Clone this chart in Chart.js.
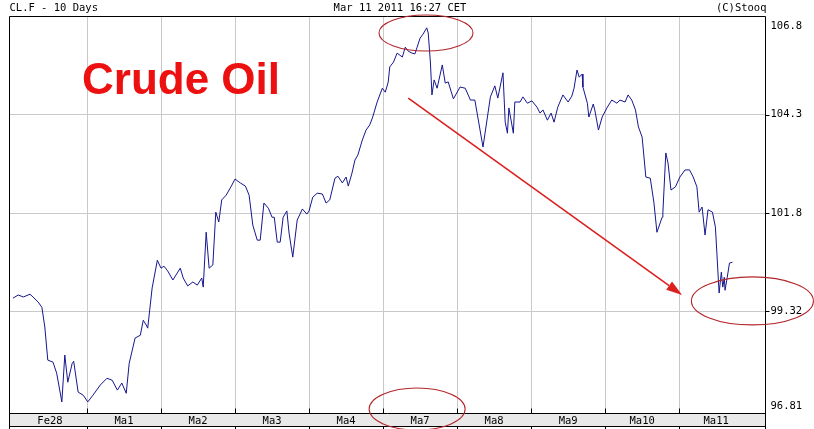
<!DOCTYPE html>
<html>
<head>
<meta charset="utf-8">
<script src="https://cdn.jsdelivr.net/npm/chart.js@4.4.1/dist/chart.umd.min.js"></script>
<style>
  html, body { margin: 0; padding: 0; background: #fff; }
  canvas { display: block; }
</style>
</head>
<body>
<canvas id="oilChart" width="814" height="429"></canvas>
<script>
// day slots along the bottom band
const dayLabels = ['Fe28', 'Ma1', 'Ma2', 'Ma3', 'Ma4', 'Ma7', 'Ma8', 'Ma9', 'Ma10', 'Ma11'];
const yTickValues = [106.8, 104.3, 101.8, 99.32, 96.81];
const yTickLabels = ['106.8', '104.3', '101.8', '99.32', '96.81'];

// time in trading days since the Fe28 open, price of CL.F
const times = [
  0.00, 0.07, 0.14, 0.23, 0.27, 0.34, 0.39, 0.43, 0.47, 0.54, 0.59, 0.66, 0.70, 0.74, 0.80, 0.82, 0.88, 0.95,
  1.01, 1.08, 1.18, 1.27, 1.34, 1.41, 1.47, 1.53, 1.57, 1.65, 1.72, 1.76, 1.80, 1.82, 1.88, 1.95,
  2.00, 2.04, 2.09, 2.16, 2.26, 2.30, 2.36, 2.43, 2.49, 2.55, 2.57, 2.61, 2.65, 2.70, 2.74, 2.78, 2.82, 2.88, 2.95,
  3.00, 3.07, 3.14, 3.19, 3.24, 3.30, 3.34, 3.39, 3.45, 3.50, 3.53, 3.57, 3.61, 3.65, 3.70, 3.73, 3.78, 3.84, 3.91, 3.97,
  4.00, 4.05, 4.11, 4.18, 4.23, 4.28, 4.35, 4.39, 4.45, 4.50, 4.53, 4.58, 4.62, 4.66, 4.72, 4.77, 4.82, 4.86, 4.92, 4.99,
  5.03, 5.07, 5.09, 5.14, 5.19, 5.26, 5.30, 5.34, 5.39, 5.43, 5.46, 5.50, 5.54, 5.59, 5.61, 5.64, 5.66, 5.69, 5.73, 5.80, 5.84, 5.88, 5.95,
  6.04, 6.11, 6.18, 6.24, 6.35, 6.45, 6.51, 6.55, 6.62, 6.65, 6.68, 6.70, 6.76, 6.78, 6.85, 6.89, 6.95,
  7.01, 7.08, 7.12, 7.16, 7.22, 7.27, 7.31, 7.36, 7.43, 7.50, 7.55, 7.58, 7.62, 7.65, 7.69, 7.70, 7.76, 7.78, 7.84, 7.86, 7.91, 7.96,
  8.03, 8.09, 8.16, 8.20, 8.27, 8.31, 8.36, 8.41, 8.45, 8.50, 8.55, 8.61, 8.66, 8.70, 8.77, 8.78, 8.82, 8.85, 8.89, 8.95,
  9.01, 9.08, 9.14, 9.19, 9.24, 9.27, 9.31, 9.35, 9.39, 9.45, 9.49, 9.51, 9.53, 9.54, 9.57, 9.59, 9.61, 9.62, 9.65, 9.68, 9.72
];
const prices = [
  99.65, 99.73, 99.68, 99.75, 99.68, 99.55, 99.42, 98.92, 98.08, 98.03, 97.75, 97.02, 98.21, 97.52, 98.00, 98.05, 97.27, 97.19,
  97.02, 97.19, 97.45, 97.62, 97.57, 97.32, 97.50, 97.24, 98.00, 98.64, 98.71, 99.09, 98.97, 98.89, 99.91, 100.61,
  100.41, 100.46, 100.34, 100.11, 100.41, 100.16, 99.96, 100.06, 99.98, 100.16, 99.93, 101.32, 100.41, 100.49, 101.83, 101.58, 102.14, 102.26, 102.49,
  102.67, 102.57, 102.49, 102.26, 101.50, 101.12, 101.12, 102.06, 101.93, 101.70, 101.70, 101.07, 101.07, 101.70, 101.86, 101.30, 100.69, 101.63, 101.91, 101.78,
  101.86, 102.21, 102.31, 102.29, 102.06, 102.14, 102.69, 102.74, 102.57, 102.72, 102.49, 102.82, 103.15, 103.28, 103.66, 103.91, 104.04, 104.24, 104.62, 104.97,
  104.87, 105.13, 105.51, 105.63, 105.86, 105.76, 106.01, 105.91, 105.86, 105.84, 106.01, 106.24, 106.34, 106.50, 106.37, 105.61, 104.80, 105.18, 104.97, 105.56, 105.10, 105.13, 104.70,
  105.00, 104.97, 104.67, 104.67, 103.48, 104.75, 105.03, 104.72, 105.36, 104.11, 103.83, 104.47, 103.83, 104.62, 104.62, 104.75, 104.59,
  104.65, 104.49, 104.34, 104.42, 104.16, 104.34, 104.11, 104.49, 104.80, 104.62, 104.77, 104.97, 105.43, 105.25, 105.33, 105.00, 104.59, 104.24, 104.57, 104.42, 103.91, 104.24,
  104.49, 104.67, 104.59, 104.67, 104.62, 104.80, 104.67, 104.42, 103.99, 103.73, 102.72, 102.69, 102.06, 101.32, 101.70, 101.81, 103.33, 103.07, 102.39, 102.47,
  102.72, 102.90, 102.90, 102.72, 102.47, 101.83, 101.96, 101.25, 101.89, 101.83, 101.45, 100.79, 100.11, 99.78, 100.31, 99.93, 100.18, 99.85, 100.18, 100.54, 100.56
];

const MONO = '"DejaVu Sans Mono", monospace';
const GRID = '#c9c9c9';

// hand-drawn marks on the picture, placed in data units
const marks = {
  ellipses: [
    { x: 5.58, y: 106.37, rx: 47, ry: 18 },
    { x: 5.46, y: 96.84, rx: 48, ry: 21 },
    { x: 9.99, y: 99.58, rx: 61, ry: 24 }
  ],
  arrow: { x1: 5.34, y1: 104.72, x2: 9.04, y2: 99.73 }
};

const stooqFrame = {
  id: 'stooqFrame',
  beforeDraw(chart) {
    const { ctx, chartArea: a } = chart;
    ctx.save();
    ctx.fillStyle = '#fff';
    ctx.fillRect(0, 0, chart.width, chart.height);
    ctx.fillStyle = '#e9e9e9';
    ctx.fillRect(a.left, a.bottom, a.right - a.left, 13);
    ctx.restore();
  },
  afterDraw(chart) {
    const { ctx, chartArea: a, scales } = chart;
    const L = Math.round(a.left) + 0.5, R = Math.round(a.right) + 0.5;
    const T = Math.round(a.top) + 0.5, B = Math.round(a.bottom) + 0.5;
    ctx.save();

    // frame + band borders
    ctx.strokeStyle = '#000';
    ctx.lineWidth = 1;
    ctx.beginPath();
    ctx.moveTo(L, T); ctx.lineTo(R, T);
    ctx.moveTo(L, T); ctx.lineTo(L, chart.height);
    ctx.moveTo(R, T); ctx.lineTo(R, chart.height);
    ctx.moveTo(L, B); ctx.lineTo(R, B);
    ctx.moveTo(L, B + 13); ctx.lineTo(R, B + 13);
    // day separators ticks
    for (let d = 1; d < dayLabels.length; d++) {
      const px = Math.round(scales.x.getPixelForValue(d)) + 0.5;
      ctx.moveTo(px, B - 5); ctx.lineTo(px, B);
      ctx.moveTo(px, B + 13); ctx.lineTo(px, chart.height);
    }
    // price ticks
    yTickValues.forEach((v, i) => {
      if (i === 0 || i === yTickValues.length - 1) return;
      const py = Math.round(scales.y.getPixelForValue(v)) + 0.5;
      ctx.moveTo(R, py); ctx.lineTo(R + 4, py);
    });
    ctx.stroke();

    // price labels
    ctx.fillStyle = '#000';
    ctx.font = '10.5px ' + MONO;
    ctx.textBaseline = 'middle';
    ctx.textAlign = 'left';
    yTickValues.forEach((v, i) => {
      let py = scales.y.getPixelForValue(v);
      py = Math.min(Math.max(py, a.top + 10), a.bottom - 7);
      ctx.fillText(yTickLabels[i], R + 5, py);
    });

    // header
    ctx.textBaseline = 'alphabetic';
    ctx.fillText('CL.F - 10 Days', L, 11);
    ctx.textAlign = 'center';
    ctx.fillText('Mar 11 2011 16:27 CET', 400, 11);
    ctx.textAlign = 'right';
    ctx.fillText('(C)Stooq', R + 1, 11);

    // title
    ctx.textAlign = 'left';
    ctx.fillStyle = '#ec1010';
    ctx.font = 'bold 44px "Liberation Sans", Arial, sans-serif';
    ctx.fillText('Crude Oil', 82, 94);

    // ellipses
    ctx.strokeStyle = '#b3262b';
    ctx.lineWidth = 1.1;
    marks.ellipses.forEach(e => {
      ctx.beginPath();
      ctx.ellipse(scales.x.getPixelForValue(e.x), scales.y.getPixelForValue(e.y), e.rx, e.ry, 0, 0, Math.PI * 2);
      ctx.stroke();
    });

    // arrow
    const ar = marks.arrow;
    const x1 = scales.x.getPixelForValue(ar.x1), y1 = scales.y.getPixelForValue(ar.y1);
    const x2 = scales.x.getPixelForValue(ar.x2), y2 = scales.y.getPixelForValue(ar.y2);
    const ang = Math.atan2(y2 - y1, x2 - x1);
    const hl = 16, hw = 5;
    ctx.strokeStyle = '#dc1f1f';
    ctx.fillStyle = '#dc1f1f';
    ctx.lineWidth = 1.6;
    ctx.beginPath();
    ctx.moveTo(x1, y1);
    ctx.lineTo(x2 - Math.cos(ang) * hl, y2 - Math.sin(ang) * hl);
    ctx.stroke();
    ctx.beginPath();
    ctx.moveTo(x2, y2);
    ctx.lineTo(x2 - Math.cos(ang) * hl - Math.sin(ang) * hw, y2 - Math.sin(ang) * hl + Math.cos(ang) * hw);
    ctx.lineTo(x2 - Math.cos(ang) * hl + Math.sin(ang) * hw, y2 - Math.sin(ang) * hl - Math.cos(ang) * hw);
    ctx.closePath();
    ctx.fill();

    ctx.restore();
  }
};

const xTicks = [];
for (let d = 0; d < dayLabels.length; d++) {
  if (d > 0) xTicks.push(d);
  xTicks.push(d + 0.5);
}

new Chart(document.getElementById('oilChart'), {
  type: 'line',
  data: {
    datasets: [{
      data: times.map((t, i) => ({ x: t, y: prices[i] })),
      borderColor: '#16168f',
      borderWidth: 1,
      pointRadius: 0,
      tension: 0,
      fill: false
    }]
  },
  options: {
    responsive: false,
    devicePixelRatio: 1,
    animation: false,
    events: [],
    layout: { padding: { left: 9, top: 16, right: 0, bottom: 0 } },
    plugins: {
      legend: { display: false },
      tooltip: { enabled: false }
    },
    scales: {
      x: {
        type: 'linear',
        min: -0.054,
        max: 10.16,
        afterBuildTicks: s => { s.ticks = xTicks.map(v => ({ value: v })); },
        afterFit: s => { s.height = 16; },
        grid: {
          color: c => (c.tick && Number.isInteger(c.tick.value)) ? GRID : 'rgba(0,0,0,0)',
          drawTicks: false
        },
        border: { display: false },
        ticks: {
          autoSkip: false,
          maxRotation: 0,
          padding: 2,
          color: '#000',
          font: { family: MONO, size: 10.5 },
          callback: v => Number.isInteger(v) ? '' : dayLabels[Math.floor(v)]
        }
      },
      y: {
        position: 'right',
        min: 96.74,
        max: 106.8,
        afterBuildTicks: s => { s.ticks = yTickValues.map(v => ({ value: v })); },
        afterFit: s => { s.width = 49; },
        grid: {
          color: c => (c.tick && c.tick.value === 96.81) ? 'rgba(0,0,0,0)' : GRID,
          drawTicks: false
        },
        border: { display: false },
        ticks: { display: false }
      }
    }
  },
  plugins: [stooqFrame]
});
</script>
</body>
</html>
